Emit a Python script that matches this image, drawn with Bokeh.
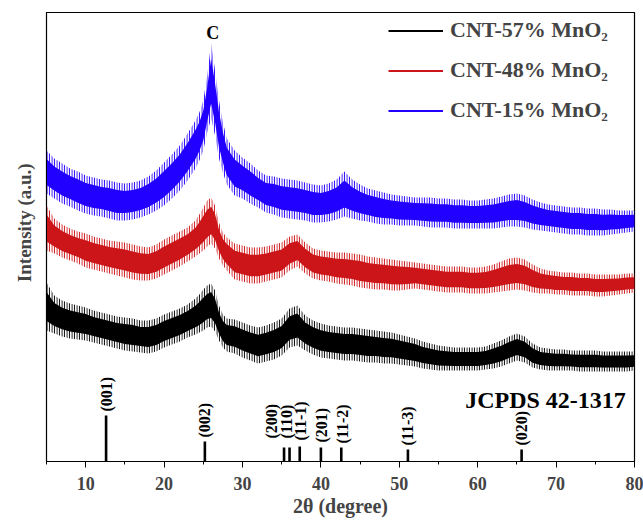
import math
from bokeh.plotting import figure
from bokeh.models import Range1d, SingleIntervalTicker, FixedTicker, Legend, LegendItem
from bokeh.core.properties import value
from bokeh.embed import file_html
from bokeh.resources import INLINE

# 2theta sample positions (degree)
two_theta = [5, 6, 7, 8, 9, 10, 11, 12, 13, 14, 15, 16, 17, 18, 19, 20, 21, 22, 23, 24,
             24.5, 25, 25.5, 26, 26.5, 27, 27.5, 28,
             29, 30, 31, 32, 33, 34, 35, 36, 37, 38, 39, 40, 41, 42, 43, 44, 45, 46, 47, 48, 49, 50,
             51, 52, 53, 54, 55, 56, 57, 58, 59, 60, 61, 62, 63, 64, 65, 66, 67, 68, 69, 70,
             71, 72, 73, 74, 75, 76, 77, 78, 79, 80]

# noisy band envelopes (a.u.)
blue_upper = [311, 303, 298, 293, 290, 286, 284, 282, 281, 279, 278, 279, 281, 285, 291, 299, 307, 316, 328, 341,
              349, 361, 386, 418, 391, 361, 339, 323,
              311, 304, 298, 291, 286, 285, 283, 282, 281, 279, 277, 276, 278, 282, 290, 282, 277, 273, 271, 269, 267, 266,
              265, 264, 264, 264, 263, 263, 262, 262, 261, 261, 262, 263, 265, 267, 268, 266, 262, 259, 257, 256,
              255, 254, 254, 253, 253, 252, 252, 251, 251, 251]
blue_lower = [268, 263, 258, 255, 251, 248, 246, 245, 243, 241, 241, 242, 244, 247, 251, 256, 263, 271, 281, 293,
              301, 311, 329, 343, 326, 303, 289, 277,
              266, 263, 258, 254, 249, 247, 244, 243, 242, 241, 239, 239, 240, 242, 245, 243, 241, 240, 238, 237, 237, 236,
              236, 236, 235, 234, 234, 234, 233, 233, 233, 233, 233, 233, 234, 235, 235, 234, 232, 231, 230, 229,
              228, 227, 227, 226, 226, 226, 227, 228, 229, 230]
red_upper = [256, 243, 237, 233, 230, 228, 225, 223, 221, 220, 219, 217, 215, 214, 217, 222, 226, 230, 234, 241,
             247, 254, 261, 264, 256, 239, 229, 224,
             218, 216, 214, 214, 215, 217, 219, 225, 227, 219, 213, 211, 210, 209, 209, 208, 207, 205, 204, 203, 202, 201,
             200, 199, 198, 197, 196, 195, 195, 195, 194, 194, 195, 197, 200, 203, 204, 202, 197, 193, 191, 190,
             189, 189, 188, 188, 187, 187, 187, 187, 188, 188]
red_lower = [211, 208, 204, 201, 198, 194, 192, 190, 188, 186, 184, 182, 181, 181, 183, 187, 191, 195, 200, 205,
             208, 211, 215, 218, 213, 203, 196, 191,
             182, 180, 178, 178, 180, 182, 184, 191, 195, 188, 183, 181, 180, 178, 177, 176, 174, 173, 172, 172, 171, 171,
             172, 173, 172, 171, 170, 169, 169, 169, 168, 168, 168, 169, 170, 171, 172, 171, 169, 168, 168, 167,
             167, 166, 166, 166, 165, 165, 166, 167, 168, 169]
black_upper = [179, 166, 161, 158, 156, 154, 151, 149, 147, 145, 144, 143, 141, 141, 143, 147, 150, 153, 157, 163,
               167, 172, 176, 178, 171, 156, 147, 143,
               142, 139, 136, 134, 136, 139, 143, 153, 156, 146, 141, 138, 136, 135, 134, 134, 133, 132, 131, 130, 129, 127,
               125, 123, 120, 118, 116, 115, 114, 114, 114, 114, 115, 118, 121, 125, 128, 125, 118, 114, 113, 112,
               112, 111, 111, 111, 111, 110, 110, 110, 110, 110]
black_lower = [131, 128, 125, 123, 122, 121, 119, 117, 115, 113, 111, 110, 109, 108, 110, 114, 117, 120, 124, 127,
               129, 131, 134, 135, 130, 121, 114, 110,
               108, 104, 101, 98, 100, 102, 106, 114, 116, 111, 107, 104, 103, 102, 101, 101, 100, 99, 99, 98, 98, 97,
               96, 95, 93, 92, 91, 91, 91, 91, 91, 91, 92, 93, 95, 98, 101, 99, 94, 92, 91, 91,
               91, 91, 90, 90, 90, 90, 90, 90, 90, 91]

series_names = ["CNT-57% MnO\u2082", "CNT-48% MnO\u2082", "CNT-15% MnO\u2082"]
series_colors = ["#000000", "#cc1518", "#2200ff"]

# JCPDS 42-1317 reference pattern
ref_pos = [12.6, 25.2, 35.3, 36.0, 37.3, 40.0, 42.6, 51.1, 65.6]
ref_height = [46, 20, 14, 14, 15, 14, 14, 12, 12]
ref_labels = ["(001)", "(002)", "(200)", "(110)", "(11-1)", "(201)", "(11-2)", "(11-3)", "(020)"]
ref_label_x = [12.6, 25.2, 33.7, 35.6, 37.4, 40.1, 42.8, 51.1, 65.6]
ref_label_y = [50, 24, 23, 23, 21, 19, 18, 16, 16]

FONT = "Liberation Serif"

p = figure(frame_width=588, frame_height=449, output_backend="svg", toolbar_location=None,
           x_range=Range1d(5, 80), y_range=Range1d(0, 449),
           min_border_left=46, min_border_right=9, min_border_top=12, min_border_bottom=58)
p.background_fill_color = "white"
p.border_fill_color = "white"
p.grid.visible = False
p.outline_line_color = "black"
p.outline_line_width = 1.2

bands = [(black_upper, black_lower), (red_upper, red_lower), (blue_upper, blue_lower)]
items = []
for (up, lo), name, col in zip(bands, series_names, series_colors):
    # spiky fringe of the noisy trace: vertical hairlines over the whole envelope
    p.varea(x=two_theta, y1=lo, y2=up, fill_alpha=0, hatch_pattern="vertical_line",
            hatch_color=col, hatch_scale=2.5, hatch_weight=1.3)
    # dense core of the noisy trace
    core_lo = [l + 0.2 * (u - l) for u, l in zip(up, lo)]
    core_up = [u - 0.2 * (u - l) for u, l in zip(up, lo)]
    p.varea(x=two_theta, y1=core_lo, y2=core_up, fill_color=col, fill_alpha=1.0)
    mid = [(a + b) / 2 for a, b in zip(up, lo)]
    r = p.line(x=two_theta, y=mid, line_color=col, line_width=2)
    items.append(LegendItem(label=name, renderers=[r]))

# reference sticks
p.segment(x0=ref_pos, y0=[0] * len(ref_pos), x1=ref_pos, y1=ref_height, line_color="black", line_width=2.6)
p.text(x=ref_label_x, y=ref_label_y, text=ref_labels, angle=math.pi / 2,
       text_align="left", text_baseline="middle", text_font=value(FONT), text_font_style="bold",
       text_font_size="16px", text_color="black")
p.text(x=[58.4], y=[62], text=["JCPDS 42-1317"], text_align="left", text_baseline="alphabetic",
       text_font=value(FONT), text_font_style="bold", text_font_size="24px", text_color="black")
p.text(x=[26.2], y=[429], text=["C"], text_align="center", text_baseline="middle",
       text_font=value(FONT), text_font_style="bold", text_font_size="18px", text_color="black")

# axes
xa = p.xaxis[0]
xa.ticker = SingleIntervalTicker(interval=10, num_minor_ticks=2)
xa.axis_label = "2\u03b8 (degree)"
xa.axis_label_text_font = FONT
xa.axis_label_text_font_style = "bold"
xa.axis_label_text_font_size = "20px"
xa.axis_label_standoff = 2
xa.major_label_text_font = FONT
xa.major_label_text_font_style = "bold"
xa.major_label_text_font_size = "18px"
xa.major_label_standoff = 9
xa.major_tick_in = 0
xa.major_tick_out = 6
xa.minor_tick_in = 0
xa.minor_tick_out = 3
xa.axis_line_color = "black"
xa.major_tick_line_color = "black"
xa.minor_tick_line_color = "black"

ya = p.yaxis[0]
ya.ticker = FixedTicker(ticks=[])
# leading no-break spaces lift the visible title slightly above the frame centre, as in the original
ya.axis_label = "\u00a0" * 6 + "Intensity (a.u.)"
ya.axis_label_text_font = FONT
ya.axis_label_text_font_style = "bold"
ya.axis_label_text_font_size = "19px"
ya.axis_label_standoff = 12
ya.major_tick_line_color = None
ya.minor_tick_line_color = None
ya.axis_line_color = "black"

legend = Legend(items=items, location=(342, 338), background_fill_alpha=0, border_line_color=None,
                padding=0, margin=0, spacing=14, glyph_width=55, glyph_height=25, label_height=25,
                label_standoff=7, label_text_font=FONT, label_text_font_style="bold",
                label_text_font_size="22px")
p.add_layout(legend)

open("out.html", "w").write(file_html(p, INLINE))
